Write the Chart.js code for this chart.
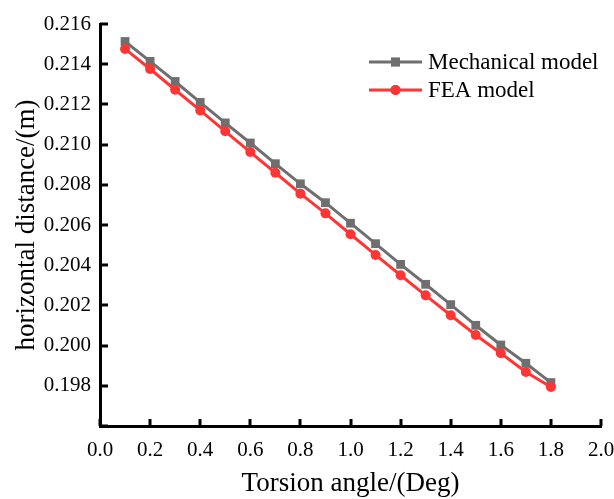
<!DOCTYPE html>
<html>
<head>
<meta charset="utf-8">
<script src="https://cdn.jsdelivr.net/npm/chart.js@4"></script>
<style>
  html, body { margin: 0; padding: 0; background: #fff; }
  #wrap { width: 614px; height: 499px; }
</style>
</head>
<body>
<div id="wrap"><canvas id="chart" width="614" height="499"></canvas></div>
<script>
const angles = [0.1, 0.2, 0.3, 0.4, 0.5, 0.6, 0.7, 0.8, 0.9, 1.0, 1.1, 1.2, 1.3, 1.4, 1.5, 1.6, 1.7, 1.8];
const mechanical = [0.21513, 0.21414, 0.21314, 0.2121, 0.21108, 0.21008, 0.20905, 0.20805, 0.20711,
  0.20609, 0.20507, 0.20404, 0.20305, 0.20204, 0.20101, 0.20003, 0.19912, 0.19816];
const fea = [0.21476, 0.21376, 0.21273, 0.2117, 0.21066, 0.20963, 0.2086, 0.20756, 0.20658,
  0.20554, 0.20451, 0.2035, 0.2025, 0.20151, 0.20053, 0.19962, 0.19869, 0.19794];

const serif = '"Liberation Serif", "Times New Roman", serif';
const GRAY = '#6f6f6f';
const RED = '#ff3535';

const toPoints = ys => angles.map((x, i) => ({ x, y: ys[i] }));

// ticks point inward, like the origin plot
const innerTicks = {
  id: 'innerTicks',
  afterDraw(chart) {
    const { ctx, chartArea: a } = chart;
    const xs = chart.scales.x, ys = chart.scales.y;
    ctx.save();
    ctx.strokeStyle = '#000';
    ctx.lineWidth = 3;
    ctx.beginPath();
    xs.ticks.forEach(t => {
      const px = Math.round(xs.getPixelForValue(t.value));
      ctx.moveTo(px, a.bottom);
      ctx.lineTo(px, a.bottom - 7);
    });
    ys.ticks.forEach(t => {
      const py = Math.round(ys.getPixelForValue(t.value));
      ctx.moveTo(a.left, py);
      ctx.lineTo(a.left + 8, py);
    });
    ctx.stroke();
    ctx.restore();
  }
};

// legend with a line sample and marker
const lineLegend = {
  id: 'lineLegend',
  afterDraw(chart) {
    const ctx = chart.ctx;
    const x0 = 369, x1 = 422, rows = [62, 90];
    chart.data.datasets.forEach((ds, i) => {
      const y = rows[i];
      ctx.save();
      ctx.strokeStyle = ds.borderColor;
      ctx.lineWidth = ds.borderWidth;
      ctx.beginPath();
      ctx.moveTo(x0, y);
      ctx.lineTo(x1, y);
      ctx.stroke();
      ctx.fillStyle = ds.pointBackgroundColor;
      Chart.helpers.drawPoint(ctx, {
        pointStyle: ds.pointStyle, radius: ds.pointRadius, borderWidth: 0
      }, (x0 + x1) / 2, y);
      ctx.fill();
      ctx.fillStyle = '#000';
      ctx.font = '23px ' + serif;
      ctx.textBaseline = 'middle';
      ctx.fillText(ds.label, 428, y + 1);
      ctx.restore();
    });
  }
};

new Chart(document.getElementById('chart'), {
  type: 'line',
  data: {
    datasets: [
      {
        label: 'Mechanical model', data: toPoints(mechanical),
        borderColor: GRAY, borderWidth: 3, pointStyle: 'rect', pointRadius: 6.2,
        pointBackgroundColor: GRAY, pointBorderWidth: 0, order: 2
      },
      {
        label: 'FEA model', data: toPoints(fea),
        borderColor: RED, borderWidth: 3, pointStyle: 'circle', pointRadius: 5,
        pointBackgroundColor: RED, pointBorderWidth: 0, order: 1
      }
    ]
  },
  options: {
    responsive: false, animation: false,
    layout: { padding: { top: 24, right: 0, left: 0, bottom: 0 } },
    plugins: { legend: { display: false }, tooltip: { enabled: false } },
    scales: {
      x: {
        type: 'linear', min: 0, max: 2,
        afterFit: s => { s.height = 73; s.paddingRight = 13; s.paddingLeft = 0; },
        grid: { display: false, drawTicks: false },
        border: { display: true, width: 3, color: '#000' },
        ticks: {
          stepSize: 0.2, padding: 12, color: '#000', maxRotation: 0,
          font: { family: serif, size: 21 },
          callback: v => v.toFixed(1)
        },
        title: {
          display: true, text: 'Torsion angle/(Deg)', color: '#000',
          font: { family: serif, size: 27, lineHeight: 1 }, padding: { bottom: 2 }
        }
      },
      y: {
        min: 0.196, max: 0.216,
        afterFit: s => { s.width = 100; s.paddingTop = 0; s.paddingBottom = 0; },
        grid: { display: false, drawTicks: false },
        border: { display: true, width: 3, color: '#000' },
        ticks: {
          stepSize: 0.002, padding: 9, color: '#000',
          font: { family: serif, size: 21 },
          callback: v => (Math.abs(v - 0.196) < 1e-6 ? '' : v.toFixed(3))
        },
        title: {
          display: true, text: 'horizontal distance/(m)', color: '#000',
          font: { family: serif, size: 27, lineHeight: 1 }, padding: { top: 13 }
        }
      }
    }
  },
  plugins: [innerTicks, lineLegend]
});
</script>
</body>
</html>
